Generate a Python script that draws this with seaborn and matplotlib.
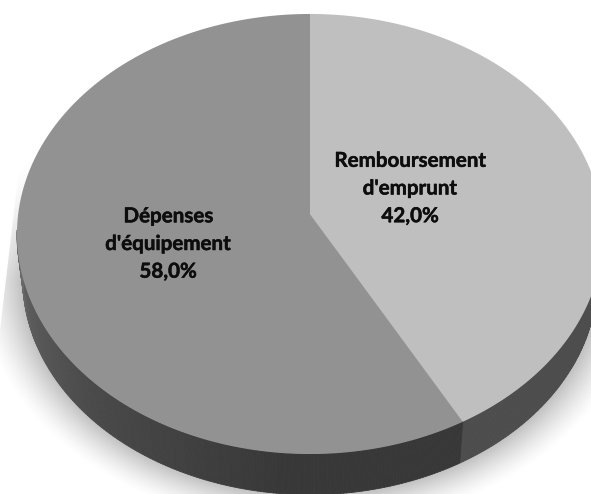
import numpy as np
import matplotlib
matplotlib.use("Agg")
import matplotlib.pyplot as plt
import matplotlib.patheffects as pe
from matplotlib.collections import PolyCollection
import seaborn as sns

categories = ["Remboursement\nd'emprunt", "Dépenses\nd'équipement"]
shares = [42.0, 58.0]

top_colors = sns.color_palette(["#bfbfbf", "#929292"])
W, H = 591, 494
sns.set_theme(style="white")
plt.rcParams["font.family"] = ["Lato", "DejaVu Sans"]

fig = plt.figure(figsize=(W / 100, H / 100), dpi=100)
ax = fig.add_axes([0, 0, 1, 1])
ax.set_xlim(0, W)
ax.set_ylim(H, 0)
ax.axis("off")

# perspective view of the pie disc
K = 0.0909


def project(theta, cx, cy, sx, sy):
    u, v = np.sin(theta), np.cos(theta)
    w = 1 + K * v
    return cx + sx * u / w, cy - sy * v / w


TOP = dict(cx=310, cy=214, sx=291.8, sy=218.2)
BOT = dict(cx=310, cy=259.5, sx=286.0, sy=213.8)

# soft drop shadow behind the pie
yy, xx = np.mgrid[0:H, 0:W]
rim = np.sqrt(((xx - 310) / 287.0) ** 2 + ((yy - 278) / 216.0) ** 2)
dist = (rim - 1) * 250
shade = np.clip(1 - dist / 40, 0, 1) ** 1.4
shade *= np.clip((yy - 150) / 130, 0, 1)
edge = 20 - (yy - 160) * 20 / 170
shade *= np.clip(xx - edge + 1, 0, 1)
ax.imshow(1 - 0.25 * shade, cmap="gray", vmin=0, vmax=1, extent=(0, W, H, 0),
          aspect="auto", zorder=0, interpolation="bilinear")
ax.set_xlim(0, W)
ax.set_ylim(H, 0)

fractions = np.cumsum([0] + shares) / sum(shares)

# side wall (front part only), light slice then dark slice
quads, quad_cols = [], []
for i in range(len(shares)):
    start, stop = fractions[i] * 2 * np.pi, fractions[i + 1] * 2 * np.pi
    th = np.linspace(start, stop, 360)
    for a, b in zip(th[:-1], th[1:]):
        deg = np.degrees((a + b) / 2)
        if not 94 < deg < 266:
            continue
        x1, y1 = project(np.array([a, b]), **TOP)
        x2, y2 = project(np.array([b, a]), **BOT)
        quads.append(np.column_stack([np.r_[x1, x2], np.r_[y1, y2]]))
        if i == 0:
            g = 0.30
        else:
            g = np.interp(deg, [151, 185, 225, 250, 266], [0.22, 0.22, 0.29, 0.36, 0.43])
        quad_cols.append((g, g, g))
ax.add_collection(PolyCollection(quads, facecolors=quad_cols, edgecolors=quad_cols,
                                 linewidths=0.6, zorder=1))

# top face
for i in range(len(shares)):
    start, stop = fractions[i] * 2 * np.pi, fractions[i + 1] * 2 * np.pi
    th = np.linspace(start, stop, 500)
    x, y = project(th, **TOP)
    ax.fill(np.r_[TOP["cx"], x], np.r_[TOP["cy"], y], color=top_colors[i],
            lw=0, zorder=2)

label_xy = [(410, 188.5), (168, 244)]
for (lx, ly), name, val in zip(label_xy, categories, shares):
    t = ax.text(lx, ly, f"{name}\n{val:.1f}".replace(".", ",") + "%", ha="center", va="center",
                fontsize=14.8, fontweight="bold", color="#0d0d0d", linespacing=1.48, zorder=3)
    t.set_path_effects([pe.withStroke(linewidth=0.35, foreground="#0d0d0d")])

fig.savefig("out.png", dpi=100)
